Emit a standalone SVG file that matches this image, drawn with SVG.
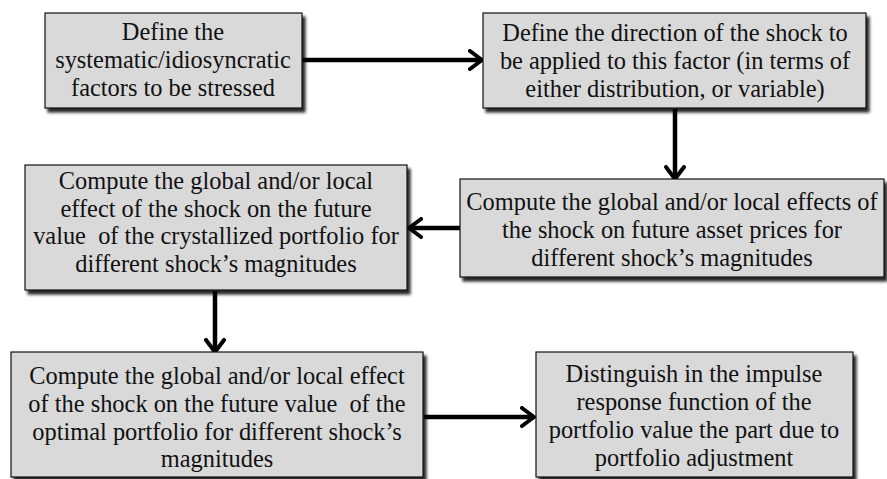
<svg xmlns="http://www.w3.org/2000/svg" width="887" height="479" viewBox="0 0 887 479">
<style>
.box{fill:#d9d9d9;stroke:#111;stroke-width:1.2;filter:url(#sh)}
.t{font-family:"Liberation Serif","Times New Roman",serif;font-size:24.4px;fill:#111;text-anchor:middle}
.c{fill:none;stroke:#000;stroke-width:4.5}
.cs{fill:none;stroke:#666;stroke-width:4;filter:url(#bl)}
</style>
<defs>
<filter id="sh" x="-5%" y="-5%" width="115%" height="120%">
<feGaussianBlur in="SourceAlpha" stdDeviation="1.5"/>
<feOffset dx="3" dy="4" result="o"/>
<feComponentTransfer><feFuncA type="linear" slope="0.85"/></feComponentTransfer>
<feMerge><feMergeNode/><feMergeNode in="SourceGraphic"/></feMerge>
</filter>
<filter id="bl" x="-10%" y="-100%" width="120%" height="300%"><feGaussianBlur stdDeviation="1.2"/></filter>
<marker id="ah" viewBox="0 0 16 22" refX="14" refY="11" markerWidth="16" markerHeight="22" markerUnits="userSpaceOnUse" orient="auto">
<path d="M2,2 L14,11 L2,20" fill="none" stroke="#000" stroke-width="4" stroke-linecap="round" stroke-linejoin="round"/>
</marker>
</defs>
<rect width="887" height="479" fill="#fff"/>
<g id="connectors">
<line class="cs" x1="304" y1="65" x2="472" y2="65"/>
<line class="c" x1="302" y1="60" x2="482" y2="60" marker-end="url(#ah)"/>
<line class="c" x1="675" y1="109" x2="675" y2="179" marker-end="url(#ah)"/>
<line class="cs" x1="420" y1="233" x2="458" y2="233"/>
<line class="c" x1="460" y1="228" x2="409" y2="228" marker-end="url(#ah)"/>
<line class="c" x1="215" y1="291" x2="215" y2="352" marker-end="url(#ah)"/>
<line class="cs" x1="425" y1="422" x2="524" y2="422"/>
<line class="c" x1="424" y1="417" x2="534" y2="417" marker-end="url(#ah)"/>
</g>
<g id="n1"><rect class="box" x="45" y="13" width="257" height="95"/>
<text class="t" x="173" y="40">Define the</text>
<text class="t" x="173" y="68">systematic/idiosyncratic</text>
<text class="t" x="173" y="96">factors to be stressed</text></g>
<g id="n2"><rect class="box" x="483" y="13" width="383" height="95"/>
<text class="t" x="675" y="41">Define the direction of the shock to</text>
<text class="t" x="675" y="69">be applied to this factor (in terms of</text>
<text class="t" x="675" y="97">either distribution, or variable)</text></g>
<g id="n4"><rect class="box" x="460" y="179" width="424" height="98"/>
<text class="t" x="672" y="210">Compute the global and/or local effects of</text>
<text class="t" x="672" y="238">the shock on future asset prices for</text>
<text class="t" x="672" y="266">different shock’s magnitudes</text></g>
<g id="n3"><rect class="box" x="25" y="165" width="382" height="125"/>
<text class="t" x="216" y="189">Compute the global and/or local</text>
<text class="t" x="216" y="217">effect of the shock on the future</text>
<text class="t" x="216" y="244" xml:space="preserve">value  of the crystallized portfolio for</text>
<text class="t" x="216" y="272">different shock’s magnitudes</text></g>
<g id="n5"><rect class="box" x="11" y="352" width="412" height="125"/>
<text class="t" x="217" y="384">Compute the global and/or local effect</text>
<text class="t" x="217" y="412" xml:space="preserve">of the shock on the future value  of the</text>
<text class="t" x="217" y="440">optimal portfolio for different shock’s</text>
<text class="t" x="217" y="467">magnitudes</text></g>
<g id="n6"><rect class="box" x="536" y="352" width="317" height="125"/>
<text class="t" x="694" y="382">Distinguish in the impulse</text>
<text class="t" x="694" y="410">response function of the</text>
<text class="t" x="694" y="438">portfolio value the part due to</text>
<text class="t" x="694" y="466">portfolio adjustment</text></g>
</svg>
